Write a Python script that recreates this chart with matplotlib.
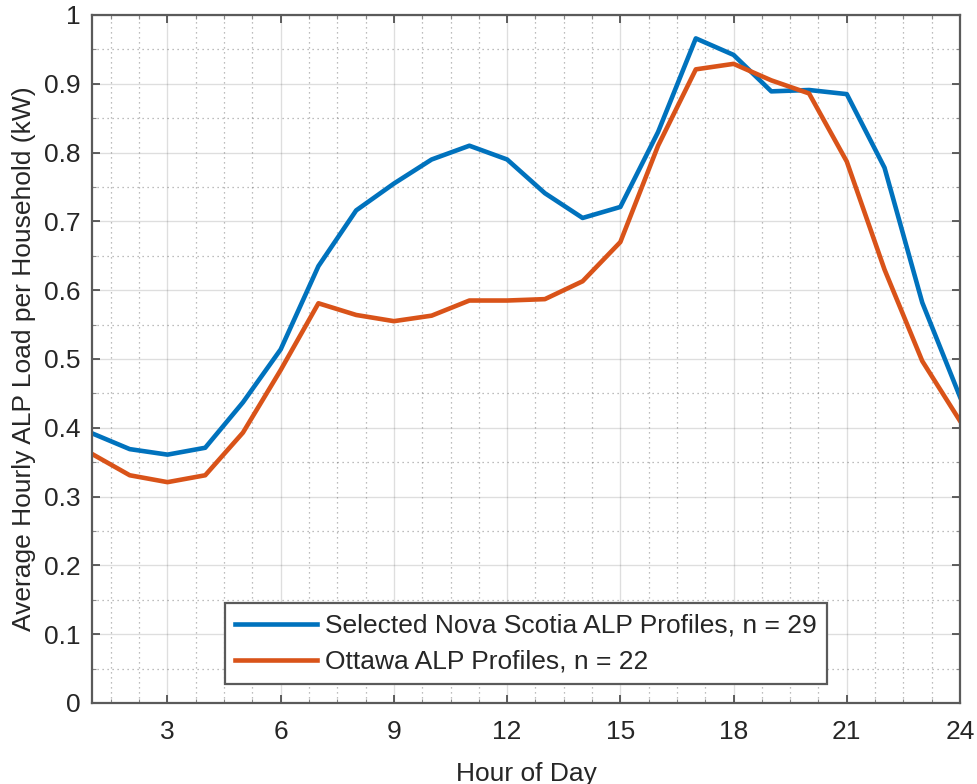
import numpy as np
import matplotlib.pyplot as plt
from matplotlib.ticker import MultipleLocator

plt.rcParams['font.family'] = ['Liberation Sans', 'DejaVu Sans']

# hourly ALP load data (kW)
hours = np.arange(1, 25)
nova_scotia = [0.392, 0.369, 0.361, 0.371, 0.437, 0.514, 0.635, 0.716, 0.755, 0.790,
               0.810, 0.790, 0.741, 0.705, 0.721, 0.830, 0.966, 0.942, 0.889, 0.891,
               0.885, 0.778, 0.582, 0.445]
ottawa = [0.362, 0.331, 0.321, 0.331, 0.393, 0.484, 0.581, 0.564, 0.555, 0.563,
          0.585, 0.585, 0.587, 0.613, 0.670, 0.810, 0.921, 0.929, 0.905, 0.886,
          0.787, 0.630, 0.497, 0.410]
labels = ['Selected Nova Scotia ALP Profiles, n = 29', 'Ottawa ALP Profiles, n = 22']
yticks = np.round(np.arange(0, 1.01, 0.1), 1)

dark = '#262626'
fs = 19

fig = plt.figure(figsize=(9.78, 7.84), dpi=100)
ax = fig.add_axes([92/978, 1 - 703/784, 868/978, 688/784])

ax.plot(hours, nova_scotia, color='#0072BD', lw=3.3, label=labels[0])
ax.plot(hours, ottawa, color='#D95319', lw=3.3, label=labels[1])

ax.set_xlim(1, 24)
ax.set_ylim(0, 1)
ax.xaxis.set_major_locator(MultipleLocator(3))
ax.xaxis.set_minor_locator(MultipleLocator(0.75))
ax.set_yticks(yticks)
ax.set_yticklabels([f'{v:g}' for v in yticks])
ax.yaxis.set_minor_locator(MultipleLocator(0.05))

ax.grid(which='major', color=dark, alpha=0.15, lw=1.0)
ax.grid(which='minor', color=dark, alpha=0.4, lw=0.9, linestyle=(0, (1, 3)))
ax.set_axisbelow(True)

ax.tick_params(which='both', direction='in', top=True, right=True, colors=dark,
               labelsize=fs)
ax.tick_params(axis='x', pad=12)
ax.tick_params(axis='y', pad=8)
ax.tick_params(which='major', length=6, width=1.2, color='#444444')
ax.tick_params(which='minor', length=3, width=0.8, color='#888888')
for s in ax.spines.values():
    s.set_color('#5a5a5a')
    s.set_linewidth(1.6)

ax.set_xlabel('Hour of Day', fontsize=fs, color=dark, labelpad=13)
ax.set_ylabel('Average Hourly ALP Load per Household (kW)', fontsize=fs, color=dark, labelpad=6)

leg = ax.legend(loc='lower left', bbox_to_anchor=(0.153, 0.027), fontsize=fs,
                fancybox=False, framealpha=1, edgecolor='#5a5a5a',
                handlelength=3.1, borderpad=0.4, labelspacing=0.45,
                handletextpad=0.3, borderaxespad=0)
leg.get_frame().set_linewidth(1.6)
for t in leg.get_texts():
    t.set_color(dark)

fig.savefig('out.png', dpi=100)
